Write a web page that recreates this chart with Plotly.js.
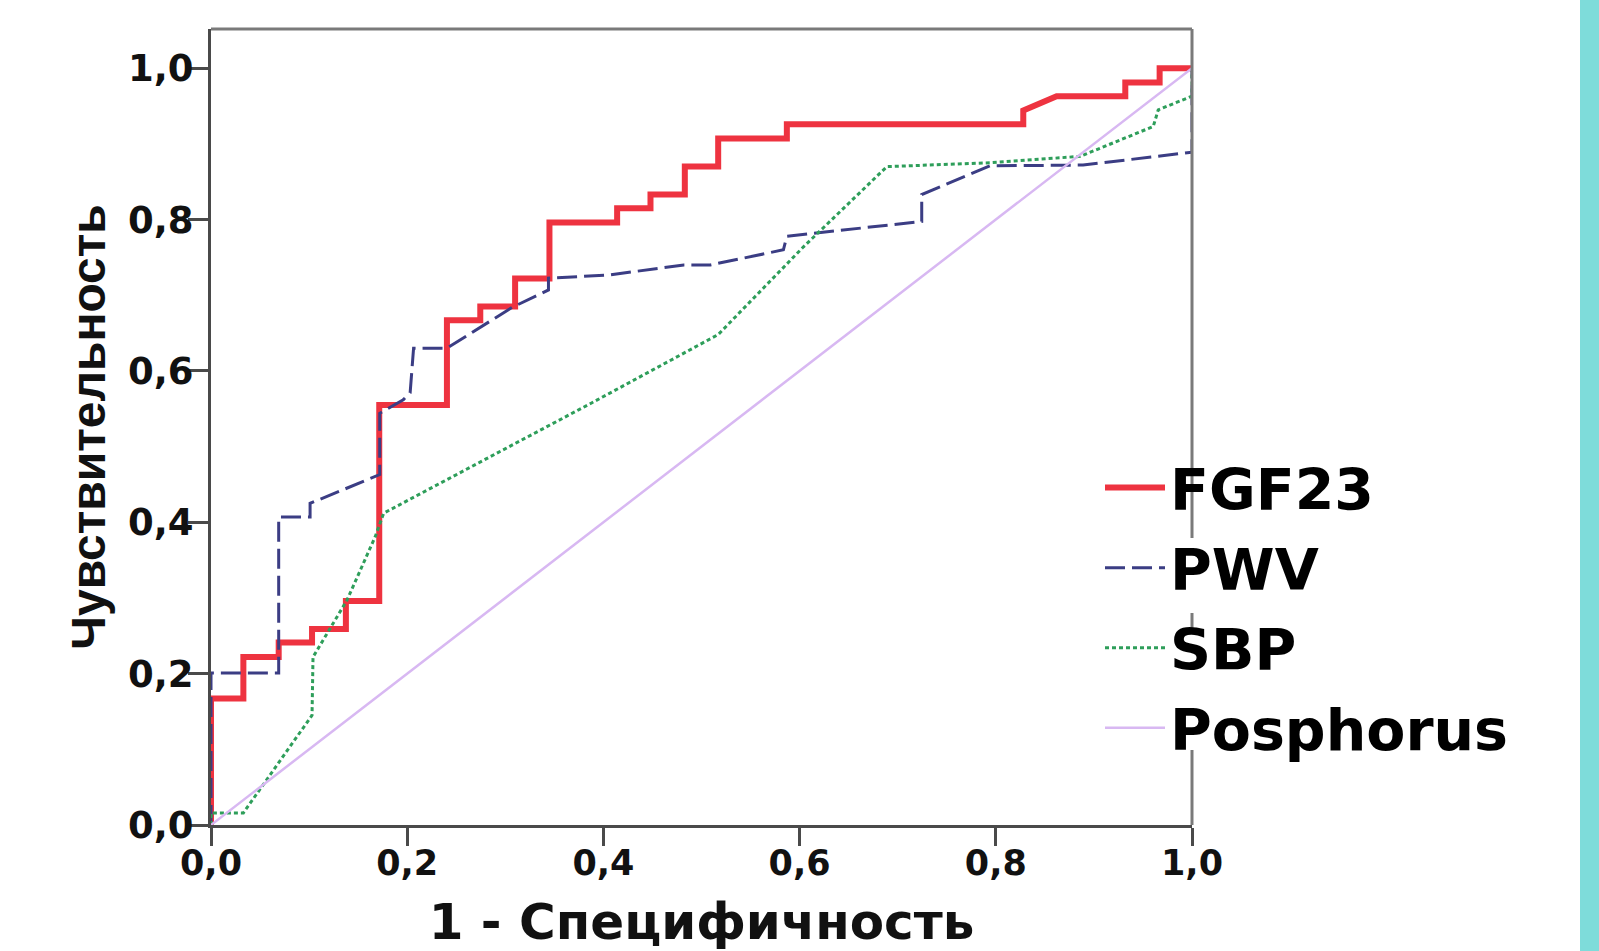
<!DOCTYPE html>
<html>
<head>
<meta charset="utf-8">
<script src="https://cdn.plot.ly/plotly-3.0.1.min.js"></script>
<style>
html,body{margin:0;padding:0;background:#ffffff;}
#chart{width:1599px;height:951px;}
</style>
</head>
<body>
<div id="chart"></div>
<script>
// ---- data ----
const seriesNames = ['FGF23', 'PWV', 'SBP', 'Posphorus'];

const fgf23X = [0, 0, 0.033, 0.033, 0.069, 0.069, 0.103, 0.103, 0.1375, 0.1375, 0.1715, 0.1715, 0.2405, 0.2405, 0.2745, 0.2745, 0.310, 0.310, 0.345, 0.345, 0.414, 0.414, 0.448, 0.448, 0.483, 0.483, 0.517, 0.517, 0.587, 0.587, 0.828, 0.828, 0.862, 0.932, 0.932, 0.967, 0.967, 1.0];
const fgf23Y = [0, 0.167, 0.167, 0.222, 0.222, 0.241, 0.241, 0.259, 0.259, 0.296, 0.296, 0.555, 0.555, 0.667, 0.667, 0.685, 0.685, 0.722, 0.722, 0.796, 0.796, 0.815, 0.815, 0.833, 0.833, 0.870, 0.870, 0.907, 0.907, 0.926, 0.926, 0.944, 0.963, 0.963, 0.981, 0.981, 1.0, 1.0];

const pwvX = [0, 0, 0.069, 0.069, 0.101, 0.101, 0.172, 0.172, 0.196, 0.203, 0.2065, 0.2405, 0.307, 0.344, 0.344, 0.407, 0.482, 0.509, 0.5835, 0.587, 0.7245, 0.7245, 0.794, 0.889, 1.0, 1.0];
const pwvY = [0, 0.201, 0.201, 0.407, 0.407, 0.425, 0.463, 0.544, 0.562, 0.571, 0.630, 0.630, 0.684, 0.707, 0.7225, 0.727, 0.740, 0.740, 0.760, 0.778, 0.7975, 0.833, 0.871, 0.872, 0.889, 1.0];

const sbpX = [0, 0, 0.033, 0.103, 0.104, 0.1386, 0.1674, 0.176, 0.387, 0.517, 0.604, 0.689, 0.794, 0.886, 0.9605, 0.9656, 1.0, 1.0];
const sbpY = [0, 0.016, 0.016, 0.145, 0.222, 0.297, 0.381, 0.412, 0.557, 0.648, 0.764, 0.870, 0.875, 0.8835, 0.923, 0.945, 0.963, 1.0];

const phosX = [0, 1];
const phosY = [0, 1];

const tickVals = [0, 0.2, 0.4, 0.6, 0.8, 1.0];
const tickText = ['0,0', '0,2', '0,4', '0,6', '0,8', '1,0'];

const xTitle = '1 - Специфичность';
const yTitle = 'Чувствительность';

// ---- layout geometry (pixels) ----
const L = 211, R = 1192, T = 29, B = 825;
const W = 1599, H = 951;
const px2x = p => (p - L) / (R - L);
const px2y = p => (B - p) / (B - T);

const boldFont = 'DejaVu Sans, Liberation Sans, Arial, sans-serif';

const traces = [
  {x: fgf23X, y: fgf23Y, name: seriesNames[0], legendgroup: 'g1', mode: 'lines',
   line: {color: '#EE3340', width: 6}},
  {x: pwvX, y: pwvY, name: seriesNames[1], legendgroup: 'g2', mode: 'lines',
   line: {color: '#3B3D84', width: 3, dash: '20px,7px'}},
  {x: sbpX, y: sbpY, name: seriesNames[2], legendgroup: 'g3', mode: 'lines',
   line: {color: '#2E9E5A', width: 3, dash: '4px,3px'}},
  {x: phosX, y: phosY, name: seriesNames[3], legendgroup: 'g4', mode: 'lines',
   line: {color: '#D8B8F2', width: 2.5}}
];

const frameColor = '#7a7a7a';
const layout = {
  width: W, height: H,
  margin: {l: L, r: W - R, t: T, b: H - B, pad: 0},
  paper_bgcolor: '#ffffff',
  plot_bgcolor: '#ffffff',
  showlegend: true,
  xaxis: {
    range: [0, 1], showgrid: false, zeroline: false, automargin: false,
    showline: true, linecolor: '#4a4a4a', linewidth: 3,
    ticks: 'outside', ticklen: 18, tickwidth: 3, tickcolor: '#4a4a4a',
    tickmode: 'array', tickvals: tickVals, ticktext: tickText,
    ticklabelstandoff: -13,
    tickfont: {family: boldFont, size: 35, weight: 'bold', color: '#111'},
    title: {text: xTitle, standoff: 34,
            font: {family: boldFont, size: 50, weight: 'bold', color: '#111'}}
  },
  yaxis: {
    range: [0, 1.0518], showgrid: false, zeroline: false, automargin: false,
    showline: true, linecolor: '#4a4a4a', linewidth: 3,
    ticks: 'outside', ticklen: 20, tickwidth: 3, tickcolor: '#4a4a4a',
    tickmode: 'array', tickvals: tickVals, ticktext: tickText,
    ticklabelstandoff: -13,
    tickfont: {family: boldFont, size: 37, weight: 'bold', color: '#111'},
    title: {text: yTitle, standoff: 8,
            font: {family: 'Liberation Sans, Arial, sans-serif', size: 48, weight: 'bold', color: '#111'}}
  },
  legend: {
    x: px2x(1100), y: px2y(444), xanchor: 'left', yanchor: 'top',
    bgcolor: 'rgba(0,0,0,0)', borderwidth: 0,
    font: {family: boldFont, size: 57, weight: 'bold', color: '#000'},
    itemwidth: 60, tracegroupgap: 3, traceorder: 'grouped', valign: 'middle'
  },
  shapes: [
    // top frame
    {type: 'line', xref: 'paper', yref: 'paper', x0: 0, x1: 1, y0: 1, y1: 1,
     line: {color: frameColor, width: 3}},
    // right frame (partly hidden behind the legend as in the reference)
    {type: 'line', xref: 'paper', yref: 'paper', x0: 1, x1: 1, y0: 1, y1: px2y(538),
     line: {color: frameColor, width: 3}},
    {type: 'line', xref: 'paper', yref: 'paper', x0: 1, x1: 1, y0: px2y(613), y1: px2y(628),
     line: {color: frameColor, width: 3}},
    {type: 'line', xref: 'paper', yref: 'paper', x0: 1, x1: 1, y0: px2y(750), y1: 0,
     line: {color: frameColor, width: 3}},
    // cyan strip at the right edge of the slide
    {type: 'rect', xref: 'paper', yref: 'paper', x0: px2x(1580), x1: px2x(1605),
     y0: px2y(960), y1: px2y(-10), fillcolor: '#7EDCDA', line: {width: 0}, layer: 'below'}
  ]
};

Plotly.newPlot('chart', traces, layout, {displayModeBar: false, staticPlot: true});
</script>
</body>
</html>
